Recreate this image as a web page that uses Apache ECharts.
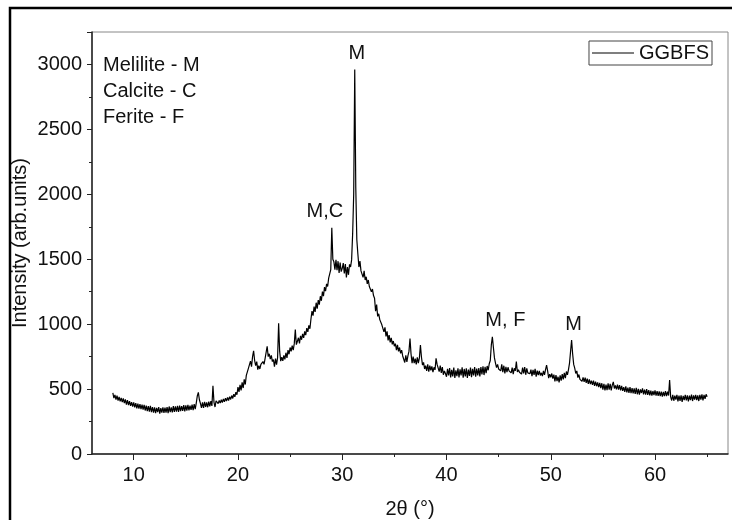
<!DOCTYPE html>
<html>
<head>
<meta charset="utf-8">
<script src="https://cdn.jsdelivr.net/npm/echarts@6/dist/echarts.min.js"></script>
<style>
  html, body { margin: 0; padding: 0; background: #fff; }
  #main { width: 732px; height: 520px; }
</style>
</head>
<body>
<div id="main"></div>
<script>
// XRD scan: 8.0 - 65.0 deg, step 0.1 deg (one row per degree)
var scanStart = 8.0;
var scanStep = 0.1;
var intensity = [
  470, 430, 455, 418, 450, 412, 440, 405, 432, 400,   // 8
  428, 392, 420, 380, 415, 376, 408, 370, 400, 365,   // 9
  398, 360, 392, 352, 388, 350, 384, 345, 380, 342,   // 10
  378, 335, 372, 330, 368, 326, 370, 322, 362, 318,   // 11
  360, 315, 356, 322, 362, 310, 354, 318, 360, 316,   // 12
  358, 318, 362, 315, 366, 322, 360, 320, 368, 325,   // 13
  366, 326, 370, 324, 372, 330, 368, 332, 376, 328,   // 14
  374, 334, 378, 336, 372, 340, 380, 338, 384, 345,   // 15
  392, 448, 474, 418, 390, 355, 398, 356, 402, 362,   // 16
  398, 360, 404, 366, 408, 370, 525, 398, 362, 410,   // 17
  405, 388, 412, 392, 418, 396, 424, 402, 430, 408,   // 18
  436, 412, 442, 420, 450, 428, 460, 440, 476, 456,   // 19
  515, 478, 532, 490, 552, 508, 575, 535, 605, 590,   // 20
  660, 650, 715, 672, 750, 795, 720, 680, 712, 650,   // 21
  680, 655, 690, 675, 712, 690, 735, 720, 830, 750,   // 22
  772, 730, 760, 712, 728, 672, 735, 688, 742, 1006,  // 23
  790, 715, 745, 718, 760, 728, 780, 740, 800, 768,   // 24
  820, 790, 835, 800, 850, 958, 842, 868, 895, 852,   // 25
  910, 880, 925, 895, 945, 915, 970, 940, 990, 965,   // 26
  1040, 1100, 1065, 1135, 1095, 1165, 1120, 1185, 1150, 1215, // 27
  1180, 1250, 1215, 1285, 1255, 1310, 1290, 1355, 1340, 1420, // 28
  1742, 1500, 1480, 1420, 1495, 1415, 1485, 1395, 1475, 1405, // 29
  1430, 1470, 1390, 1462, 1360, 1440, 1380, 1460, 1440, 1495, // 30
  1699, 2000, 2961, 2050, 1650, 1540, 1440, 1485, 1410, 1420, // 31
  1360, 1410, 1340, 1365, 1310, 1340, 1290, 1305, 1250, 1270, // 32
  1220, 1200, 1100, 1150, 1060, 1080, 1035, 1045, 995, 1000,  // 33
  940, 975, 905, 945, 875, 915, 860, 895, 845, 870,   // 34
  830, 850, 800, 840, 790, 820, 775, 800, 755, 770,   // 35
  705, 760, 710, 755, 790, 890, 770, 700, 750, 700,   // 36
  735, 690, 745, 700, 740, 839, 745, 685, 705, 655,   // 37
  680, 640, 690, 635, 680, 645, 675, 630, 668, 648,   // 38
  737, 690, 705, 635, 680, 625, 670, 610, 640, 620,   // 39
  595, 655, 605, 662, 590, 648, 598, 665, 585, 645,   // 40
  600, 660, 590, 652, 605, 668, 588, 655, 598, 660,   // 41
  585, 650, 602, 665, 592, 655, 605, 670, 595, 658,   // 42
  605, 662, 598, 670, 612, 675, 608, 672, 622, 678,   // 43
  645, 695, 720, 840, 903, 820, 740, 700, 665, 690,   // 44
  655, 668, 640, 690, 630, 680, 620, 672, 630, 668,   // 45
  640, 650, 625, 665, 615, 660, 640, 711, 632, 648,   // 46
  630, 640, 615, 665, 620, 670, 610, 660, 625, 632,   // 47
  618, 650, 600, 648, 610, 655, 595, 642, 608, 640,   // 48
  605, 625, 600, 640, 610, 650, 685, 640, 585, 615,   // 49
  590, 620, 580, 612, 560, 608, 562, 595, 552, 605,   // 50
  565, 615, 575, 625, 585, 635, 610, 650, 700, 790,   // 51
  878, 770, 690, 662, 620, 640, 588, 612, 575, 590,   // 52
  560, 590, 555, 588, 548, 580, 540, 575, 538, 565,   // 53
  532, 565, 525, 558, 522, 552, 515, 548, 508, 545,   // 54
  495, 540, 490, 535, 492, 545, 495, 540, 490, 530,   // 55
  555, 505, 528, 498, 535, 495, 530, 490, 525, 486,   // 56
  515, 478, 520, 475, 512, 470, 515, 468, 508, 466,   // 57
  505, 462, 510, 460, 502, 458, 498, 470, 505, 460,   // 58
  495, 458, 500, 455, 492, 452, 488, 450, 485, 454,   // 59
  490, 450, 485, 448, 482, 445, 480, 442, 478, 446,   // 60
  485, 445, 480, 450, 570, 440, 412, 455, 410, 450,   // 61
  418, 455, 405, 450, 410, 452, 402, 448, 415, 455,   // 62
  412, 452, 405, 450, 415, 458, 408, 452, 418, 456,   // 63
  415, 452, 408, 455, 418, 460, 412, 456, 425, 460,   // 64
  441                                                 // 65
];

// peak labels
var peakPos = [29.0, 31.2, 44.4, 52.0];
var peakTop = [1742, 2961, 903, 878];
var peakText = ['M,C', 'M', 'M, F', 'M'];
var peakShift = [-7, 2, 13, 2];

// phase key
var phaseKey = ['Melilite - M', 'Calcite - C', 'Ferite - F'];

// axis ticks
var xMajor = [10, 20, 30, 40, 50, 60];
var xMinor = [15, 25, 35, 45, 55, 65];

var FONT = '"Liberation Sans", Arial, sans-serif';

var seriesData = intensity.map(function (v, i) {
	return [+(scanStart + i * scanStep).toFixed(1), v];
});

var myChart = echarts.init(document.getElementById('main'));

var option = {
	animation: false,
	textStyle: { fontFamily: FONT },
	grid: {
		left: 92, top: 32, right: 4, bottom: 66,
		outerBoundsMode: 'none',
		show: true, borderColor: '#888', borderWidth: 1
	},
	legend: {
		data: [{ name: 'GGBFS', icon: 'rect' }],
		right: 20, top: 41,
		borderColor: '#444', borderWidth: 1,
		padding: [2, 3, 2, 3],
		itemWidth: 42, itemHeight: 1,
		textStyle: { fontSize: 20, color: '#111', fontFamily: FONT }
	},
	xAxis: [{
		type: 'value', min: 6, max: 67,
		name: '2θ (°)', nameLocation: 'middle', nameGap: 45,
		nameTextStyle: { fontSize: 20, color: '#111', fontFamily: FONT },
		axisLine: { show: true, onZero: false, lineStyle: { color: '#222', width: 1.5 } },
		axisTick: { show: true, customValues: xMajor, length: 6, lineStyle: { color: '#222' } },
		axisLabel: { customValues: xMajor, fontSize: 20, color: '#111', margin: 11, fontFamily: FONT },
		splitLine: { show: false }
	}, {
		type: 'value', min: 6, max: 67, position: 'bottom',
		axisLine: { show: false, onZero: false },
		axisTick: { show: true, customValues: xMinor, length: 3, lineStyle: { color: '#222' } },
		axisLabel: { show: false },
		splitLine: { show: false }
	}],
	yAxis: {
		type: 'value', min: 0, max: 3250, interval: 500,
		name: 'Intensity (arb.units)', nameLocation: 'middle', nameGap: 62,
		nameMoveOverlap: false,
		nameTextStyle: { fontSize: 20, color: '#111', fontFamily: FONT },
		axisLine: { show: true, lineStyle: { color: '#222', width: 1.5 } },
		axisTick: { show: true, length: 5, lineStyle: { color: '#222' } },
		minorTick: { show: true, splitNumber: 2, length: 3, lineStyle: { color: '#222' } },
		axisLabel: {
			fontSize: 20, color: '#111', margin: 10, showMaxLabel: false, fontFamily: FONT,
			formatter: function (v) { return String(v); }
		},
		splitLine: { show: false }
	},
	graphic: [{
		type: 'rect', silent: true, z: 100,
		shape: { x: 10, y: 8, width: 760, height: 540 },
		style: { fill: 'none', stroke: '#000', lineWidth: 2.5 }
	}].concat(phaseKey.map(function (t, i) {
		return {
			type: 'text', left: 103, top: 55 + i * 26,
			style: { text: t, font: '20px ' + FONT, fill: '#111' }
		};
	})),
	series: [{
		name: 'GGBFS',
		type: 'line',
		xAxisIndex: 0,
		symbol: 'none',
		lineStyle: { color: '#000', width: 1.2 },
		itemStyle: { color: '#000' },
		data: seriesData,
		markPoint: {
			symbol: 'circle', symbolSize: 0,
			label: {
				show: true, position: 'top', distance: 6,
				fontSize: 20, color: '#111', fontFamily: FONT,
				formatter: function (p) { return p.name; }
			},
			data: peakPos.map(function (x, i) {
				return { name: peakText[i], coord: [x, peakTop[i]], label: { offset: [peakShift[i], 0] } };
			})
		}
	}]
};

myChart.setOption(option);
</script>
</body>
</html>
